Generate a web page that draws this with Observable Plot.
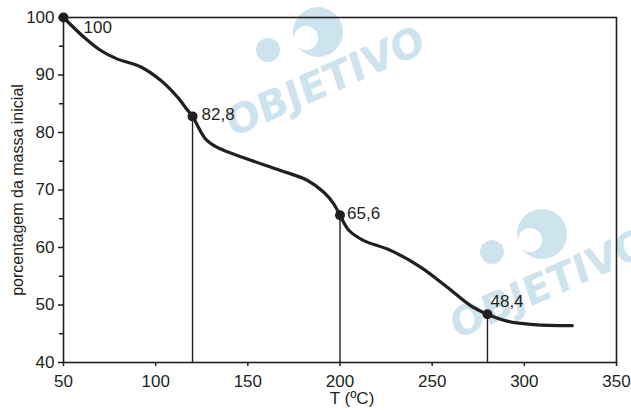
<!DOCTYPE html>
<html>
<head>
<meta charset="utf-8">
<script src="https://cdn.jsdelivr.net/npm/d3@7"></script>
<script src="https://cdn.jsdelivr.net/npm/@observablehq/plot@0.6"></script>
<style>
  html, body { margin: 0; padding: 0; background: #fff; }
</style>
</head>
<body>
<script>
// Curve: temperature (ºC) and % of initial mass
const temps = [50, 61, 70, 79, 92, 103, 112, 117, 120, 127, 133.4, 149.7, 167.7, 182.2, 191.2, 196.6, 200, 204.8, 212.9, 227.4, 243.7, 258.2, 270.8, 280, 290.7, 305.1, 326];
const mass  = [100, 96.6, 94.3, 92.8, 91.4, 89.0, 86.1, 84.0, 82.8, 78.9, 77.4, 75.4, 73.4, 71.7, 69.6, 67.6, 65.6, 63.0, 61.2, 59.5, 56.6, 53.1, 49.9, 48.4, 47.2, 46.6, 46.4];

// Marked points
const markTemps = [50, 120, 200, 280];
const markMass = [100, 82.8, 65.6, 48.4];
const markLabels = ["100", "82,8", "65,6", "48,4"];

// Axis ticks
const xTicks = [50, 100, 150, 200, 250, 300, 350];
const yTicks = [40, 50, 60, 70, 80, 90, 100];
const yMinorTicks = [45, 55, 65, 75, 85, 95];

const xLabel = "T (ºC)";
const yLabel = "porcentagem da massa inicial";
const watermark = "OBJETIVO";

const curve = temps.map((t, i) => ({t, m: mass[i]}));
const marked = markTemps.map((t, i) => ({t, m: markMass[i], label: markLabels[i]}));
const drops = marked.slice(1);

const ink = "#231f20";
const labelOffsets = [[20, 10], [9, -2], [7, -2], [3, -13]];

const chart = Plot.plot({
  width: 631,
  height: 412,
  marginLeft: 63,
  marginRight: 15,
  marginTop: 17,
  marginBottom: 50,
  style: {fontFamily: "'Liberation Sans', Arial, sans-serif", fontSize: "17px", color: ink, background: "white"},
  x: {domain: [50, 350]},
  y: {domain: [40, 100]},
  marks: [
    Plot.frame({stroke: ink, strokeWidth: 1.6}),
    Plot.axisY(yMinorTicks, {tickSize: 4, tickFormat: () => "", label: null, strokeWidth: 1.5}),
    Plot.axisY(yTicks, {tickSize: 5, tickPadding: 4, label: null, strokeWidth: 1.5, fill: ink}),
    Plot.axisX(xTicks, {tickSize: 4, tickPadding: 8, label: null, strokeWidth: 1.5, fill: ink}),
    Plot.ruleX(drops, {x: "t", y1: 40, y2: "m", stroke: ink, strokeWidth: 1.4}),
    Plot.line(curve, {x: "t", y: "m", curve: "catmull-rom", stroke: ink, strokeWidth: 3.2}),
    Plot.dot(marked, {x: "t", y: "m", r: 5, fill: ink, stroke: "none"}),
    ...labelOffsets.map(([dx, dy], k) =>
      Plot.text(marked, {filter: (d, i) => i === k, x: "t", y: "m", text: "label", textAnchor: "start", dx, dy, fill: ink})
    ),
    Plot.text([xLabel], {frameAnchor: "bottom", text: d => d, dy: 41, dx: 12, fill: ink}),
    Plot.text([yLabel], {frameAnchor: "left", text: d => d, textAnchor: "middle", rotate: -90, dx: -46, fill: ink, fontSize: 16})
  ]
});

// Light watermark drawn behind everything
const svg = d3.select(chart);
const wm = svg.insert("g", ":first-child").attr("fill", "#cde4ee");
[[0, 0], [224, 202]].forEach(([ox, oy]) => {
  const g = wm.append("g").attr("transform", `translate(${ox},${oy})`);
  g.append("circle").attr("cx", 318).attr("cy", 32).attr("r", 25);
  g.append("circle").attr("cx", 306).attr("cy", 38).attr("r", 12).attr("fill", "#fff");
  g.append("circle").attr("cx", 268).attr("cy", 50).attr("r", 12);
  g.append("text")
    .attr("transform", "translate(326,84) rotate(-24) skewX(-6)")
    .attr("text-anchor", "middle")
    .attr("dominant-baseline", "middle")
    .attr("font-family", "'DejaVu Sans', sans-serif")
    .attr("font-weight", "bold")
    .attr("font-size", 40)
    .text(watermark);
});

document.body.appendChild(chart);
</script>
</body>
</html>
